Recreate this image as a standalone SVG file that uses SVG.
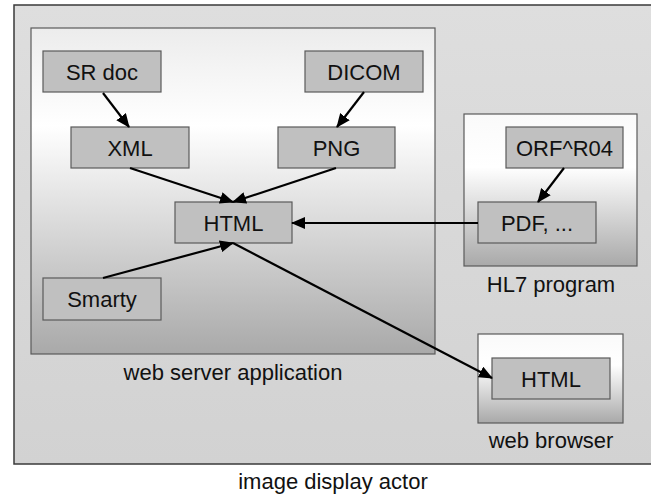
<svg xmlns="http://www.w3.org/2000/svg" width="651" height="494" viewBox="0 0 651 494">
<defs>
<linearGradient id="gOuter" x1="0" y1="0" x2="0" y2="1">
<stop offset="0" stop-color="#dedede"/><stop offset="1" stop-color="#d2d2d2"/>
</linearGradient>
<linearGradient id="gApp" x1="0" y1="0" x2="0" y2="1">
<stop offset="0" stop-color="#ececec"/><stop offset="0.3" stop-color="#ffffff"/><stop offset="1" stop-color="#a9a9a9"/>
</linearGradient>
<linearGradient id="gSub" x1="0" y1="0" x2="0" y2="1">
<stop offset="0" stop-color="#fafafa"/><stop offset="0.35" stop-color="#ffffff"/><stop offset="1" stop-color="#a9a9a9"/>
</linearGradient>
<marker id="ah" markerUnits="userSpaceOnUse" markerWidth="14" markerHeight="12" refX="13" refY="6" orient="auto">
<path d="M0,0 L14,6 L0,12 Z" fill="#000"/>
</marker>
<style>
.node rect{fill:#c0c0c0;stroke:#5a5a5a;stroke-width:1.2}
.cont{stroke:#5a5a5a;stroke-width:1.2}
text{font-family:"Liberation Sans",Arial,sans-serif;font-size:22px;fill:#111;text-anchor:middle}
.conn line{stroke:#000;stroke-width:2.2;marker-end:url(#ah)}
</style>
</defs>
<rect width="651" height="494" fill="#ffffff"/>
<g id="actor">
<rect x="14" y="5" width="640" height="459" fill="url(#gOuter)" stroke="#3a3a3a" stroke-width="1.5"/>
<text x="333" y="489">image display actor</text>
</g>
<g id="webserver">
<rect class="cont" x="31" y="28" width="404" height="326" fill="url(#gApp)"/>
<text x="233" y="380">web server application</text>
</g>
<g id="hl7">
<rect class="cont" x="464" y="114" width="173" height="152" fill="url(#gSub)"/>
<text x="551" y="292">HL7 program</text>
</g>
<g id="browser">
<rect class="cont" x="478" y="334" width="145" height="89" fill="url(#gSub)"/>
<text x="551" y="448">web browser</text>
</g>
<g id="srdoc" class="node"><rect x="43" y="51" width="118" height="41"/><text x="102" y="80">SR doc</text></g>
<g id="dicom" class="node"><rect x="305" y="51" width="118" height="41"/><text x="364" y="80">DICOM</text></g>
<g id="xml" class="node"><rect x="71" y="127" width="118" height="41"/><text x="130" y="156">XML</text></g>
<g id="png" class="node"><rect x="278" y="127" width="117" height="41"/><text x="336.5" y="156">PNG</text></g>
<g id="html" class="node"><rect x="175" y="202" width="117" height="41"/><text x="233.5" y="231">HTML</text></g>
<g id="smarty" class="node"><rect x="43" y="278" width="118" height="42"/><text x="102" y="307">Smarty</text></g>
<g id="orf" class="node"><rect x="506" y="127" width="117" height="41"/><text x="564.5" y="156">ORF^R04</text></g>
<g id="pdf" class="node"><rect x="478" y="202" width="118" height="41"/><text x="537" y="231">PDF, ...</text></g>
<g id="bhtml" class="node"><rect x="492" y="358" width="118" height="41"/><text x="551" y="387">HTML</text></g>
<g id="connectors" class="conn">
<line x1="103" y1="93" x2="129" y2="127"/>
<line x1="364" y1="92" x2="337" y2="127"/>
<line x1="130" y1="168" x2="233" y2="202"/>
<line x1="336" y1="168" x2="233" y2="202"/>
<line x1="103" y1="278" x2="233" y2="243"/>
<line x1="478" y1="223" x2="292" y2="223"/>
<line x1="564" y1="168" x2="538" y2="202"/>
<line x1="233" y1="243" x2="492" y2="378"/>
</g>
</svg>
